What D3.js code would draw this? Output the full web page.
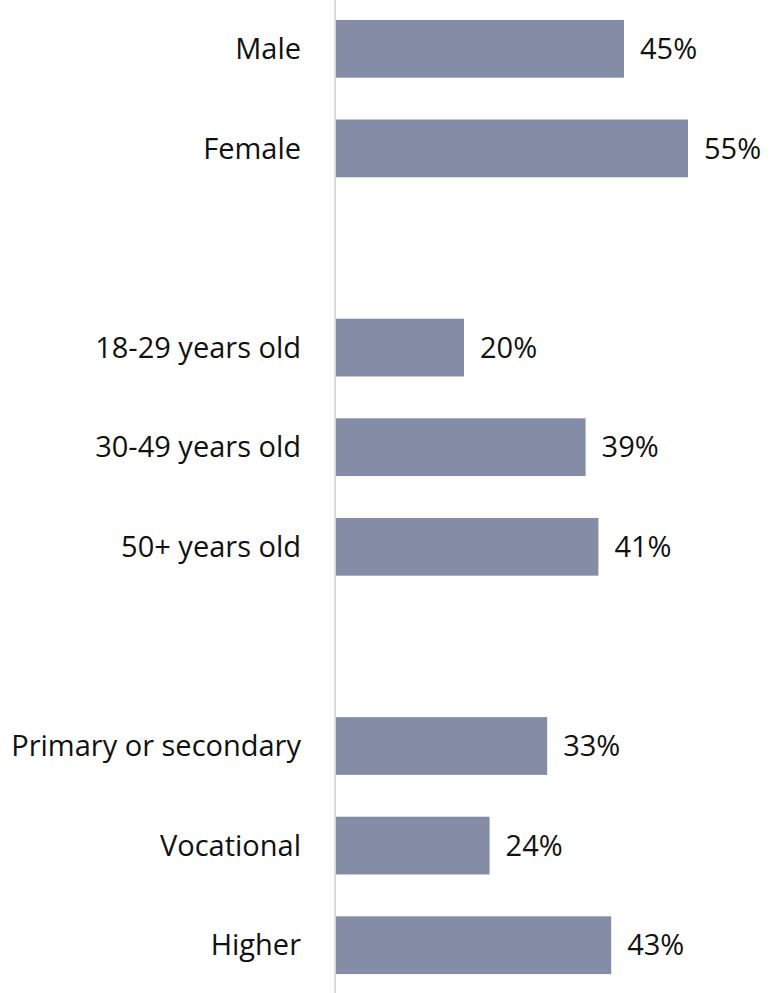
<!DOCTYPE html>
<meta charset="utf-8">
<style>
body { margin: 0; background: #fff; }
text { font-family: "Open Sans", sans-serif; font-size: 29px; fill: #111; }
</style>
<body>
<script src="https://cdn.jsdelivr.net/npm/d3@7"></script>
<script>

var genderLabels = ["Male", "Female"],
    genderValues = [45, 55];
var ageLabels = ["18-29 years old", "30-49 years old", "50+ years old"],
    ageValues = [20, 39, 41];
var educationLabels = ["Primary or secondary", "Vocational", "Higher"],
    educationValues = [33, 24, 43];

var width = 770,
    height = 993,
    axisX = 335;

// rows, with an empty slot between groups
var rows = [];
function addGroup(labels, values) {
  labels.forEach(function(l, i) { rows.push({ key: l, label: l, value: values[i] }); });
}
addGroup(genderLabels, genderValues);
rows.push({ key: "gap1", spacer: true });
addGroup(ageLabels, ageValues);
rows.push({ key: "gap2", spacer: true });
addGroup(educationLabels, educationValues);

var y = d3.scaleBand()
    .domain(rows.map(function(d) { return d.key; }))
    .range([-1, 995])
    .paddingInner(0.42)
    .paddingOuter(0.21);

var x = d3.scaleLinear()
    .domain([0, 100])
    .range([axisX + 1, axisX + 1 + 640]);

var svg = d3.select("body").append("svg")
    .attr("width", width)
    .attr("height", height);

var data = rows.filter(function(d) { return !d.spacer; });

svg.selectAll(".bar")
    .data(data)
  .enter().append("rect")
    .attr("class", "bar")
    .attr("x", x(0))
    .attr("y", function(d) { return y(d.key); })
    .attr("width", function(d) { return x(d.value) - x(0); })
    .attr("height", y.bandwidth())
    .attr("fill", "#858ca6");

svg.append("line")
    .attr("x1", axisX).attr("x2", axisX)
    .attr("y1", 0).attr("y2", height)
    .attr("stroke", "#d9d9d9")
    .attr("stroke-width", 2);

svg.selectAll(".cat")
    .data(data)
  .enter().append("text")
    .attr("class", "cat")
    .attr("x", axisX - 34)
    .attr("y", function(d) { return y(d.key) + y.bandwidth() / 2; })
    .attr("dy", ".35em")
    .attr("text-anchor", "end")
    .text(function(d) { return d.label; });

svg.selectAll(".val")
    .data(data)
  .enter().append("text")
    .attr("class", "val")
    .attr("x", function(d) { return x(d.value) + 16; })
    .attr("y", function(d) { return y(d.key) + y.bandwidth() / 2; })
    .attr("dy", ".35em")
    .text(function(d) { return d.value + "%"; });

</script>
